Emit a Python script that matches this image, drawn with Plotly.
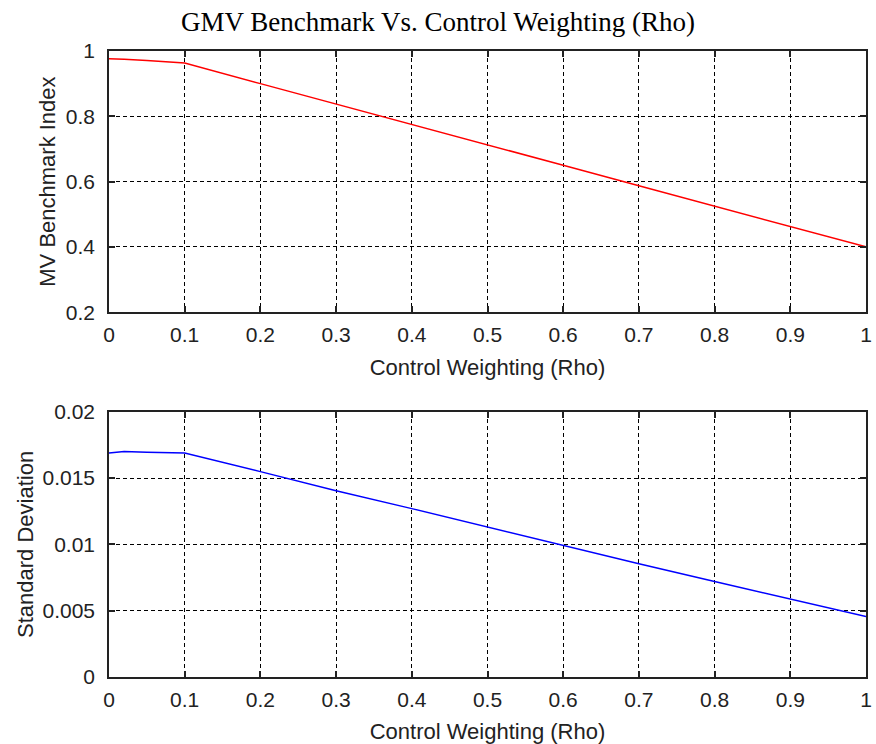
import plotly.graph_objects as go
from plotly.subplots import make_subplots

# Data
rho = [0.0, 0.02, 0.05, 0.1, 0.2, 0.3, 0.4, 0.5, 0.6, 0.7, 0.8, 0.9, 1.0]
mv_index = [0.976, 0.975, 0.971, 0.963, 0.900, 0.838, 0.775, 0.712, 0.650, 0.587, 0.525, 0.462, 0.400]
std_dev = [0.0169, 0.0170, 0.01695, 0.0169, 0.01549, 0.01405, 0.0127, 0.0113, 0.0099, 0.00855, 0.0072, 0.00587, 0.00457]

x_ticks = [0, 0.1, 0.2, 0.3, 0.4, 0.5, 0.6, 0.7, 0.8, 0.9, 1]
x_ticktext = ["0", "0.1", "0.2", "0.3", "0.4", "0.5", "0.6", "0.7", "0.8", "0.9", "1"]
y1_ticks = [0.2, 0.4, 0.6, 0.8, 1.0]
y1_ticktext = ["0.2", "0.4", "0.6", "0.8", "1"]
y2_ticks = [0, 0.005, 0.01, 0.015, 0.02]
y2_ticktext = ["0", "0.005", "0.01", "0.015", "0.02"]

W, H = 876, 744
ml, mr, mt, mb = 109, 4, 51, 65
ph = H - mt - mb
top_dom = [(679 - 313) / ph, 1.0]
bot_dom = [0.0, (679 - 413) / ph]

fig = make_subplots(rows=2, cols=1)
fig.add_trace(go.Scatter(x=rho, y=mv_index, mode="lines",
                         line=dict(color="#ff0000", width=1.5), showlegend=False), row=1, col=1)
fig.add_trace(go.Scatter(x=rho, y=std_dev, mode="lines",
                         line=dict(color="#0000ff", width=1.5), showlegend=False), row=2, col=1)

tickfont = dict(family="Liberation Sans, Arial, sans-serif", size=21, color="#222")
titlefont = dict(family="Liberation Sans, Arial, sans-serif", size=22, color="#222")

common_axis = dict(
    showline=True, linecolor="#222", linewidth=1.5, mirror="ticks",
    ticks="inside", ticklen=6, tickcolor="#222", tickwidth=1.5,
    showgrid=True, gridcolor="#000", gridwidth=1, griddash="4px,3px",
    zeroline=False, tickfont=tickfont,
)

fig.update_xaxes(**common_axis, range=[0, 1], tickvals=x_ticks, ticktext=x_ticktext,
                 ticklabelstandoff=3,
                 title=dict(text="Control Weighting (Rho)", font=titlefont, standoff=14))
fig.update_yaxes(**common_axis, ticklabelstandoff=8)

fig.update_layout(
    yaxis=dict(domain=top_dom, range=[0.2, 1.0], tickvals=y1_ticks, ticktext=y1_ticktext,
               title=dict(text="MV Benchmark Index", font=titlefont, standoff=4)),
    yaxis2=dict(domain=bot_dom, range=[0, 0.02], tickvals=y2_ticks, ticktext=y2_ticktext,
                title=dict(text="Standard Deviation", font=titlefont, standoff=3)),
    xaxis=dict(anchor="y"),
    xaxis2=dict(anchor="y2"),
    width=W, height=H,
    margin=dict(l=ml, r=mr, t=mt, b=mb),
    paper_bgcolor="white", plot_bgcolor="white",
    title=dict(text="GMV Benchmark Vs. Control Weighting (Rho)",
               font=dict(family="Liberation Serif, Times New Roman, serif", size=27, color="#000"),
               x=0.5, xanchor="center", xref="container",
               y=1 - 22 / H, yanchor="middle", yref="container"),
)

fig.write_html("out.html", config={"displayModeBar": False},
               post_script="document.body.style.margin='0';document.body.style.overflow='hidden';")
